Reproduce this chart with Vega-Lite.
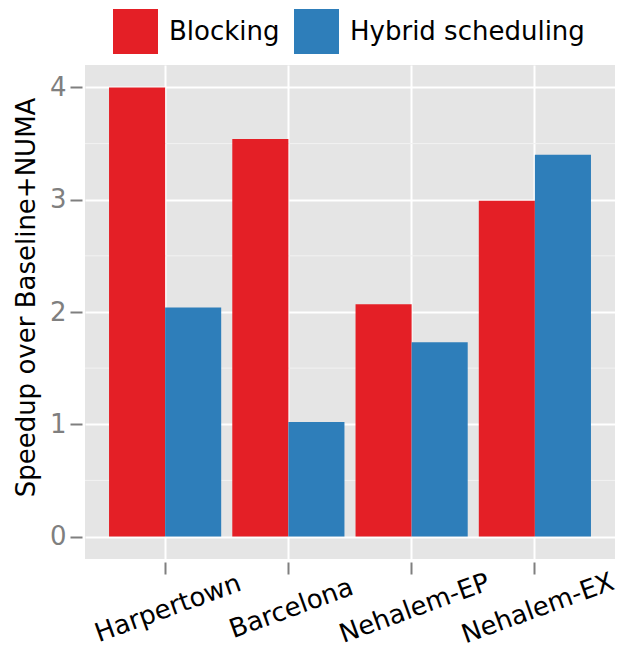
{
  "$schema": "https://vega.github.io/schema/vega-lite/v6.json",
  "width": 530,
  "height": 494,
  "autosize": {"type": "none"},
  "padding": {"left": 85, "top": 65, "right": 13, "bottom": 87},
  "background": "white",
  "config": {
    "view": {"fill": "#E5E5E5", "stroke": null},
    "font": "DejaVu Sans"
  },
  "datasets": {
    "bars": [
      {"machine": "Harpertown", "scheduler": "Blocking", "speedup": 4.0},
      {"machine": "Harpertown", "scheduler": "Hybrid scheduling", "speedup": 2.04},
      {"machine": "Barcelona", "scheduler": "Blocking", "speedup": 3.54},
      {"machine": "Barcelona", "scheduler": "Hybrid scheduling", "speedup": 1.02},
      {"machine": "Nehalem-EP", "scheduler": "Blocking", "speedup": 2.07},
      {"machine": "Nehalem-EP", "scheduler": "Hybrid scheduling", "speedup": 1.73},
      {"machine": "Nehalem-EX", "scheduler": "Blocking", "speedup": 2.99},
      {"machine": "Nehalem-EX", "scheduler": "Hybrid scheduling", "speedup": 3.4}
    ],
    "minor": [{"v": 0.5}, {"v": 1.5}, {"v": 2.5}, {"v": 3.5}]
  },
  "layer": [
    {
      "data": {"name": "minor"},
      "mark": {"type": "rule", "color": "#F2F2F2", "strokeWidth": 1},
      "encoding": {
        "y": {"field": "v", "type": "quantitative", "scale": {"domain": [-0.2, 4.2], "nice": false, "zero": false}}
      }
    },
    {
      "data": {"name": "bars"},
      "mark": {"type": "bar"},
      "encoding": {
        "x": {
          "field": "machine",
          "type": "nominal",
          "sort": ["Harpertown", "Barcelona", "Nehalem-EP", "Nehalem-EX"],
          "scale": {"paddingInner": 0.09, "paddingOuter": 0.195},
          "axis": {
            "title": null,
            "domain": false,
            "grid": true,
            "gridColor": "white",
            "gridWidth": 2,
            "bandPosition": 0.5,
            "offset": 3,
            "tickSize": 12,
            "tickWidth": 2,
            "tickColor": "#7F7F7F",
            "labelAngle": -20,
            "labelAlign": "center",
            "labelBaseline": "middle",
            "labelPadding": 34,
            "labelOffset": 3,
            "labelFontSize": 26,
            "labelColor": "black",
            "labelLimit": 0
          }
        },
        "xOffset": {
          "field": "scheduler",
          "type": "nominal",
          "scale": {"paddingInner": 0, "paddingOuter": 0}
        },
        "y": {
          "field": "speedup",
          "type": "quantitative",
          "scale": {"domain": [-0.2, 4.2], "nice": false, "zero": false},
          "axis": {
            "title": "Speedup over Baseline+NUMA",
            "values": [0, 1, 2, 3, 4],
            "format": "d",
            "domain": false,
            "grid": true,
            "gridColor": "white",
            "gridWidth": 2,
            "offset": 3,
            "tickSize": 12,
            "tickWidth": 2,
            "tickColor": "#7F7F7F",
            "labelPadding": 4,
            "labelFontSize": 26,
            "labelColor": "#7F7F7F",
            "titleFontSize": 26,
            "titleFontWeight": "normal",
            "titleColor": "black",
            "titlePadding": 10,
            "titleY": 232
          }
        },
        "y2": {"datum": 0},
        "color": {
          "field": "scheduler",
          "type": "nominal",
          "scale": {"domain": ["Blocking", "Hybrid scheduling"], "range": ["#E41F26", "#2E7EBA"]},
          "legend": {
            "title": null,
            "orient": "none",
            "direction": "horizontal",
            "legendX": 28,
            "legendY": -56,
            "symbolType": "square",
            "symbolSize": 2025,
            "symbolStrokeWidth": 0,
            "symbolOpacity": 1,
            "labelFontSize": 26,
            "labelColor": "black",
            "labelOffset": 11,
            "labelLimit": 0,
            "columnPadding": 14,
            "padding": 0
          }
        }
      }
    }
  ]
}
